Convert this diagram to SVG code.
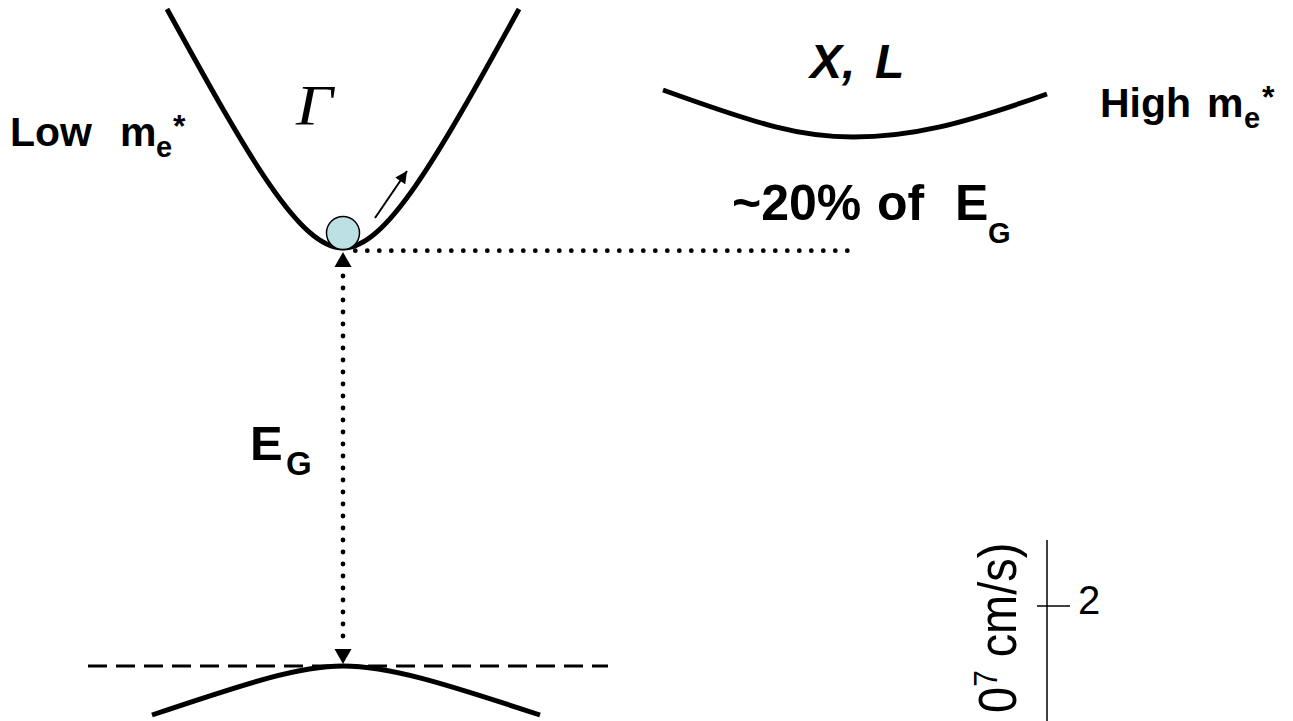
<svg xmlns="http://www.w3.org/2000/svg" width="1293" height="721" viewBox="0 0 1293 721">
<defs>
<style>
.band{fill:none;stroke:#000;stroke-width:5;stroke-linecap:butt}
.lbl{font-family:"Liberation Sans",Arial,sans-serif;font-weight:bold;fill:#000}
.dots{fill:none;stroke:#000;stroke-width:4.8;stroke-linecap:round;stroke-dasharray:0 12}
</style>
<marker id="tri" viewBox="0 0 10 10" refX="10" refY="5" markerWidth="14" markerHeight="12" markerUnits="userSpaceOnUse" orient="auto">
<path d="M0,0 L10,5 L0,10 z" fill="#000"/>
</marker>
</defs>
<rect width="1293" height="721" fill="#fff"/>

<g id="gamma-band">
<path class="band" d="M167,9 C250,160 300,248 343,248 C386,248 436,160 519,9"/>
<text x="296" y="125" font-family="'Liberation Serif','Times New Roman',serif" font-style="italic" font-size="58" transform="translate(296,0) scale(1.12,1) translate(-296,0)">Γ</text>
</g>

<g id="xl-band">
<path class="band" stroke-width="4" d="M663,90 C760,125 800,137 853,137 C910,137 960,125 1047,94"/>
<text class="lbl" x="810" y="78" font-size="48" font-style="italic">X,</text>
<text class="lbl" x="875" y="78" font-size="48" font-style="italic">L</text>
</g>

<g id="valence-band">
<path class="band" d="M152,715 C250,682 300,666 343,666 C388,666 440,682 540,715"/>
</g>

<g id="electron">
<circle cx="343" cy="233" r="16.5" fill="#BCE0E3" stroke="#000" stroke-width="1.5"/>
</g>

<g id="label-low">
<text class="lbl" x="10" y="146" font-size="41">Low</text>
<text class="lbl" x="120" y="146" font-size="41">m</text>
<text class="lbl" x="156" y="157" font-size="29">e</text>
<text class="lbl" x="173" y="137" font-size="32">*</text>
</g>

<g id="label-high">
<text class="lbl" x="1100" y="117" font-size="41">High</text>
<text class="lbl" x="1207" y="117" font-size="41">m</text>
<text class="lbl" x="1244" y="128" font-size="29">e</text>
<text class="lbl" x="1262" y="108" font-size="32">*</text>
</g>

<g id="label-20">
<text class="lbl" x="732" y="220" font-size="50">~20%</text>
<text class="lbl" x="877" y="220" font-size="50">of</text>
<text class="lbl" x="955" y="220" font-size="50">E</text>
<text class="lbl" x="988" y="243" font-size="29">G</text>
</g>

<g id="label-eg">
<text class="lbl" x="250" y="460" font-size="49">E</text>
<text class="lbl" x="286" y="475" font-size="33">G</text>
</g>

<g id="axis">
<line x1="1047" y1="540" x2="1047" y2="721" stroke="#000" stroke-width="1.5"/>
<line x1="1037" y1="606" x2="1070" y2="606" stroke="#000" stroke-width="1.5"/>
<text x="1078" y="614" font-family="'Liberation Sans',Arial,sans-serif" font-size="40">2</text>
<text transform="translate(1016,713) rotate(-90) scale(0.87,1)" font-family="'Liberation Sans',Arial,sans-serif" font-size="54">0<tspan font-size="34" dy="-19">7</tspan><tspan dy="19"> cm/s)</tspan></text>
</g>

<g id="connectors">
<line x1="88" y1="666" x2="608" y2="666" stroke="#000" stroke-width="3" stroke-dasharray="19 9"/>
<line class="dots" x1="355.3" y1="250.7" x2="848" y2="250.7"/>
<line class="dots" x1="343" y1="276" x2="343" y2="640"/>
<path d="M343,252 L351.5,267 L334.5,267 z" fill="#000"/>
<path d="M343,664 L351.5,649 L334.5,649 z" fill="#000"/>
<line x1="375" y1="218" x2="407" y2="171" stroke="#000" stroke-width="2" marker-end="url(#tri)"/>
</g>
</svg>
